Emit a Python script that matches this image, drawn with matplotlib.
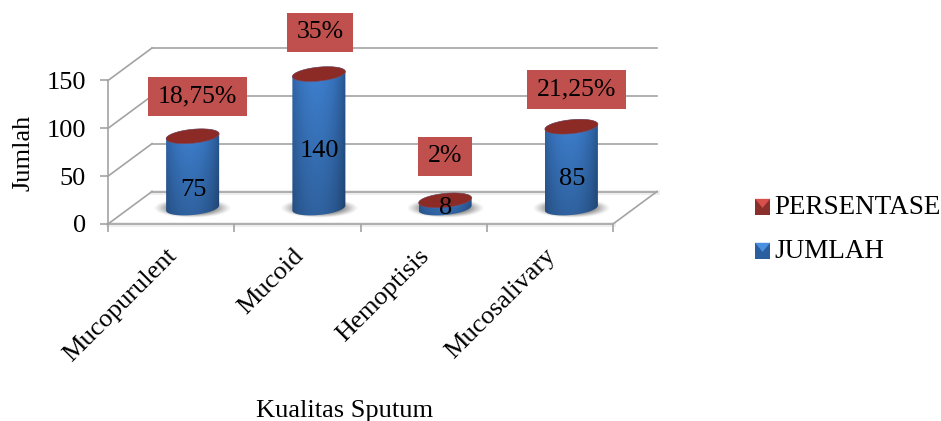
import numpy as np
import matplotlib
matplotlib.use("Agg")
import matplotlib.pyplot as plt
from matplotlib.legend_handler import HandlerBase
from matplotlib.patches import Patch, Polygon, Rectangle
from matplotlib.path import Path
from matplotlib.transforms import Affine2D, IdentityTransform

# Sputum quality counts and their shares
categories = ["Mucopurulent", "Mucoid", "Hemoptisis", "Mucosalivary"]
jumlah = [75, 140, 8, 85]
persentase = [18.75, 35, 2, 21.25]
y_ticks = [0, 50, 100, 150]

# Pixel layout of the pseudo-3D scene
W, H = 941, 421
LEFT, RIGHT, TOP, BOTTOM = 108, 613, 80.5, 224
WALL_SHIFT = (44, 32.5)
BAR_SHIFT = (21.5, 16)
HALF_W = 0.21
LID_B = 7.3
LID_TILT = 2.6
count_label_rise = [18, 57, 0, 29]
box_rise = [40, 42, 44, 37]
box_shift_x = [5, 1, 0, 5]
BOX_H = 39
BOX_PAD = 9.5

BLUE_CENTER = np.array([62, 128, 208]) / 255
BLUE_EDGE = np.array([38, 82, 138]) / 255
RED_LID = "#8C2A25"
RED_BOX = "#C0504D"
GRID = "#A3A3A3"

plt.rcParams["font.family"] = ["Liberation Serif", "DejaVu Serif"]
fig = plt.figure(figsize=(W / 100, H / 100), dpi=100)
ax = fig.add_axes([LEFT / W, 1 - BOTTOM / H, (RIGHT - LEFT) / W, (BOTTOM - TOP) / H])
ax.set_xlim(0, len(categories))
ax.set_ylim(0, 150)
ax.patch.set_alpha(0)

wall = Affine2D().translate(*WALL_SHIFT)
depth = Affine2D().translate(*BAR_SHIFT)
wall_tf = ax.transData + wall
bar_tf = ax.transData + depth
n = len(categories)

# Back wall gridlines, side-wall diagonals and floor outline
for v in y_ticks:
    ax.plot([0, n], [v, v], transform=wall_tf, color=GRID, lw=1.2, clip_on=False, zorder=1)
    p0 = ax.transData.transform((0, v))
    p1 = wall_tf.transform((0, v))
    ax.plot([p0[0], p1[0]], [p0[1], p1[1]], transform=IdentityTransform(),
            color=GRID, lw=1.2, clip_on=False, zorder=1)
p0 = ax.transData.transform((n, 0))
p1 = wall_tf.transform((n, 0))
ax.plot([p0[0], p1[0]], [p0[1], p1[1]], transform=IdentityTransform(),
        color=GRID, lw=1.2, clip_on=False, zorder=1)
ax.plot([0, n], [0, 0], transform=wall_tf, color="#000000", alpha=0.07, lw=3.5,
        clip_on=False, zorder=0.9)
ax.plot([0, n], [0, 0], transform=ax.transData, color="#000000", alpha=0.07, lw=3.5,
        clip_on=False, zorder=0.9)


def ring(cx, level, t):
    return np.column_stack([cx + HALF_W * np.cos(t),
                            level + LID_B * np.sin(t) + LID_TILT * np.cos(t)])


# Cylinders: soft floor shadow, shaded body, dark lid
for i, v in enumerate(jumlah):
    cx = i + 0.5
    gx, gy = np.meshgrid(np.linspace(-1, 1, 120), np.linspace(-1, 1, 50))
    r2 = gx ** 2 + gy ** 2
    shade = np.zeros(r2.shape + (4,))
    shade[..., :3] = 0.33
    shade[..., 3] = np.clip(1.25 * (1 - r2), 0, 1) ** 1.4 * 0.85
    sh = ax.imshow(shade, origin="lower", aspect="auto", interpolation="bilinear",
                   extent=(cx - 0.31, cx + 0.31, -10, 10), zorder=2)
    sh.set_transform(bar_tf)
    sh.set_clip_box(fig.bbox)
    sh.set_clip_path(None)

    u = np.linspace(-1, 1, 120)
    s = np.linspace(0, 1, 60)
    uu, ss = np.meshgrid(u, s)
    glow = np.clip(1 - ((uu + 0.1) / 1.1) ** 2, 0, 1) ** 0.8
    body = BLUE_EDGE[None, None] + (BLUE_CENTER - BLUE_EDGE)[None, None] * glow[..., None]
    body = body * (0.76 + 0.24 * ss[..., None])
    low_t = np.linspace(np.pi, 2 * np.pi, 60)
    up_t = np.linspace(0, np.pi, 60)
    outline = np.vstack([ring(cx, 0, low_t), ring(cx, v, up_t)])
    clip = Path(np.vstack([outline, outline[0]]), closed=True)
    im = ax.imshow(body, origin="lower", aspect="auto", interpolation="bilinear",
                   extent=(cx - HALF_W, cx + HALF_W, -LID_B - LID_TILT, v + LID_B + LID_TILT),
                   zorder=3)
    im.set_transform(bar_tf)
    im.set_clip_box(fig.bbox)
    im.set_clip_path(clip, transform=bar_tf)

    lid = Polygon(ring(cx, v, np.linspace(0, 2 * np.pi, 120)), closed=True, transform=bar_tf,
                  facecolor=RED_LID, edgecolor="#7A4A60", lw=0.4, clip_on=False, zorder=4)
    ax.add_patch(lid)

ax.set_xlim(0, n)
ax.set_ylim(0, 150)

# Count labels inside the cylinders
for i, v in enumerate(jumlah):
    x, y = bar_tf.transform((i + 0.5, 0))
    ax.text(x + 1, y + count_label_rise[i], str(v), transform=IdentityTransform(),
            ha="center", va="center", fontsize=19, color="black", zorder=6, clip_on=False)

# Percentage labels in red boxes above the cylinders
renderer = fig.canvas.get_renderer()
for i, (v, pct) in enumerate(zip(jumlah, persentase)):
    x, y = bar_tf.transform((i + 0.5, v))
    x += box_shift_x[i]
    y += box_rise[i]
    label = f"{pct:g}".replace(".", ",") + "%"
    txt = ax.text(x, y, label, transform=IdentityTransform(), ha="center", va="center",
                  fontsize=18.5, color="black", zorder=8, clip_on=False)
    w = txt.get_window_extent(renderer).width + 2 * BOX_PAD
    ax.add_patch(Rectangle((x - w / 2, y - BOX_H / 2), w, BOX_H, transform=IdentityTransform(),
                           facecolor=RED_BOX, edgecolor="none", clip_on=False, zorder=7))

# Axes, ticks and tick labels
for side in ("top", "right"):
    ax.spines[side].set_visible(False)
for side in ("left", "bottom"):
    ax.spines[side].set_color(GRID)
    ax.spines[side].set_linewidth(1.2)
ax.set_yticks(y_ticks)
ax.tick_params(axis="y", which="major", length=5.5, width=1.2, color=GRID, labelsize=19, pad=10.5)
ax.set_xticks(range(n + 1))
ax.set_xticklabels([])
ax.tick_params(axis="x", which="major", length=5.5, width=1.2, color=GRID)
ax.set_xticks(np.arange(n) + 0.5, categories, minor=True)
ax.tick_params(axis="x", which="minor", length=0, labelsize=19, pad=12)
for t in ax.get_xticklabels(minor=True):
    t.set_rotation(45)
    t.set_ha("right")
    t.set_va("top")
    t.set_rotation_mode("anchor")
    t.set_transform(t.get_transform() + Affine2D().translate(-5, -4))

ax.set_ylabel("Jumlah", fontsize=19, va="center")
ax.yaxis.set_label_coords((23 - LEFT) / (RIGHT - LEFT), (BOTTOM - 152.5) / (BOTTOM - TOP))
ax.set_xlabel("Kualitas Sputum", fontsize=19, va="center")
ax.xaxis.set_label_coords((345 - LEFT) / (RIGHT - LEFT), (BOTTOM - 411) / (BOTTOM - TOP))


class BevelHandler(HandlerBase):
    """Small square key with a lighter wedge along its top edge."""

    def create_artists(self, legend, orig, xd, yd, width, height, fontsize, trans):
        base = Rectangle((xd, yd), width, height, facecolor=orig.get_facecolor(),
                         edgecolor="none", transform=trans)
        wedge = Polygon([(xd, yd + height), (xd + width, yd + height),
                         (xd + width / 2, yd + height * 0.45)],
                        facecolor=orig.get_edgecolor(), edgecolor="none", transform=trans)
        return [base, wedge]


handles = [Patch(facecolor="#8A2F2C", edgecolor="#D8504C", label="PERSENTASE"),
           Patch(facecolor="#2B5E9E", edgecolor="#4A90E0", label="JUMLAH")]
fig.legend(handles=handles, handler_map={Patch: BevelHandler()}, frameon=False,
           loc="upper left", bbox_to_anchor=(755 / W, 1 - 195 / H), bbox_transform=fig.transFigure,
           fontsize=19.5, handlelength=0.56, handleheight=0.56, handletextpad=0.15,
           labelspacing=0.70, borderpad=0, borderaxespad=0)

fig.savefig("out.png", dpi=100, facecolor="white")
